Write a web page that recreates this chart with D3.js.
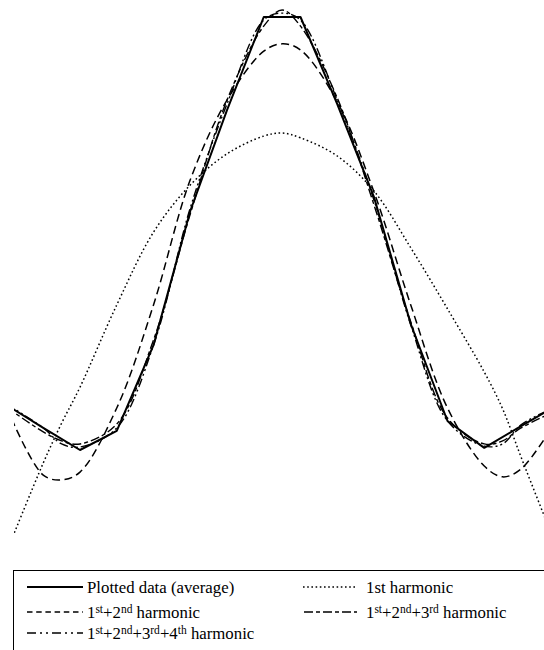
<!DOCTYPE html>
<html>
<head>
<meta charset="utf-8">
<script src="https://cdn.jsdelivr.net/npm/d3@7"></script>
<style>
  html, body { margin: 0; padding: 0; background: #fff; }
  svg { display: block; }
  text { font-family: 'Liberation Serif', 'DejaVu Serif', serif; }
</style>
</head>
<body>
<svg width="544" height="650"></svg>
<script>
// sample positions (data points are equally spaced)
var dataX = [0, 1, 2, 3, 4, 5, 6, 7, 8, 9, 10, 11, 12, 13, 14, 15]
var dataY = [10.4, 5.1, 0, 4.4, 24.2, 55.2, 78.5, 100, 100, 79.9, 58.4, 29.1, 6.7, 0.5, 5.5, 10.4]

// harmonic curves read at these positions
var harmX = [0, 1, 1.5, 2, 3, 4, 5, 6, 7, 7.5, 8, 9, 10, 11, 12, 13, 13.5, 14, 15]
var harm1 = [-23.6, -3.0, 6.2, 14.5, 33.5, 50.3, 61.2, 68.4, 72.5, 73.2, 72.1, 67.9, 59.8, 46.7, 32.6, 18.0, 9.5, -1.6, -23.1]
var harm12 = [9.9, -5.8, -6.9, -5.1, 9.7, 33.5, 62.4, 80.8, 92.1, 93.8, 92.4, 80.4, 59.6, 33.5, 9.7, -3.7, -6.2, -4.4, 7.4]
var harm123 = [9.9, 4.2, 2.1, 1.4, 6.0, 25.4, 54.5, 80.8, 97.9, 101.6, 97.9, 81.3, 56.6, 29.6, 7.4, 1.4, 2.1, 5.1, 9.2]
var harm1234 = [10.6, 5.1, 1.4, 0.7, 5.1, 24.2, 55.9, 79.9, 99.3, 100.9, 99.3, 80.8, 57.7, 28.9, 6.7, 0.9, 1.4, 5.8, 10.2]

// legend labels: [text, superscript] pairs
var labelData = [['Plotted data (average)', '']]
var label1 = [['1st harmonic', '']]
var label12 = [['1', 'st'], ['+2', 'nd'], [' harmonic', '']]
var label123 = [['1', 'st'], ['+2', 'nd'], ['+3', 'rd'], [' harmonic', '']]
var label1234 = [['1', 'st'], ['+2', 'nd'], ['+3', 'rd'], ['+4', 'th'], [' harmonic', '']]

;(function (d3) {
  var svg = d3.select('svg')

  var x = d3.scaleLinear()
    .domain([0, 15])
    .range([6.5, 557.75])

  var y = d3.scaleLinear()
    .domain([0, 100])
    .range([450, 17])

  svg.append('clipPath')
    .attr('id', 'plot-clip')
    .append('rect')
    .attr('x', 14)
    .attr('y', 0)
    .attr('width', 530)
    .attr('height', 560)

  var plot = svg.append('g')
    .attr('clip-path', 'url(#plot-clip)')

  var series = [
    {xs: harmX, ys: harm1, dash: '1.6,2.6', w: 1.5, curve: d3.curveCatmullRom},
    {xs: harmX, ys: harm12, dash: '8,4.5', w: 1.5, curve: d3.curveCatmullRom},
    {xs: harmX, ys: harm123, dash: '9,3,4,3', w: 1.4, curve: d3.curveCatmullRom},
    {xs: harmX, ys: harm1234, dash: '9,3,2,3,2,3', w: 1.4, curve: d3.curveCatmullRom},
    {xs: dataX, ys: dataY, dash: null, w: 2, curve: d3.curveLinear}
  ]

  series.forEach(function (s) {
    var ln = d3.line()
      .x(function (d) { return x(d) })
      .y(function (d, i) { return y(s.ys[i]) })
      .curve(s.curve)

    plot.append('path')
      .datum(s.xs)
      .attr('d', ln)
      .style('fill', 'none')
      .style('stroke', '#000')
      .style('stroke-width', s.w)
      .style('stroke-linejoin', 'round')
      .style('stroke-dasharray', s.dash)
  })

  // legend
  svg.append('rect')
    .attr('x', 13.5)
    .attr('y', 570.5)
    .attr('width', 600)
    .attr('height', 200)
    .style('fill', 'none')
    .style('stroke', '#000')
    .style('stroke-width', 1)

  var legend = [
    {label: labelData, dash: null, w: 2, x0: 27, x1: 83, tx: 87, row: 0},
    {label: label1, dash: '1.6,2.6', w: 1.5, x0: 303, x1: 356, tx: 366, row: 0},
    {label: label12, dash: '5.5,3.7', w: 1.5, x0: 27, x1: 83, tx: 87, row: 1},
    {label: label123, dash: '9,3,4,3', w: 1.5, x0: 304, x1: 357, tx: 366, row: 1},
    {label: label1234, dash: '9,4,2,4,2,4', w: 1.5, x0: 27, x1: 83, tx: 87, row: 2}
  ]
  var rowY = [587, 612, 633]

  legend.forEach(function (l) {
    var ly = rowY[l.row]
    svg.append('line')
      .attr('x1', l.x0)
      .attr('x2', l.x1)
      .attr('y1', ly)
      .attr('y2', ly)
      .style('stroke', '#000')
      .style('stroke-width', l.w)
      .style('stroke-dasharray', l.dash)

    var t = svg.append('text')
      .attr('x', l.tx)
      .attr('y', ly + 6)
      .attr('font-size', 16.8)
      .style('fill', '#000')

    var raised = false
    l.label.forEach(function (p) {
      t.append('tspan')
        .attr('dy', raised ? 5.5 : 0)
        .text(p[0])
      raised = false
      if (p[1]) {
        t.append('tspan')
          .attr('dy', -5.5)
          .attr('font-size', 11.5)
          .text(p[1])
        raised = true
      }
    })
  })
})(window.d3)
</script>
</body>
</html>
